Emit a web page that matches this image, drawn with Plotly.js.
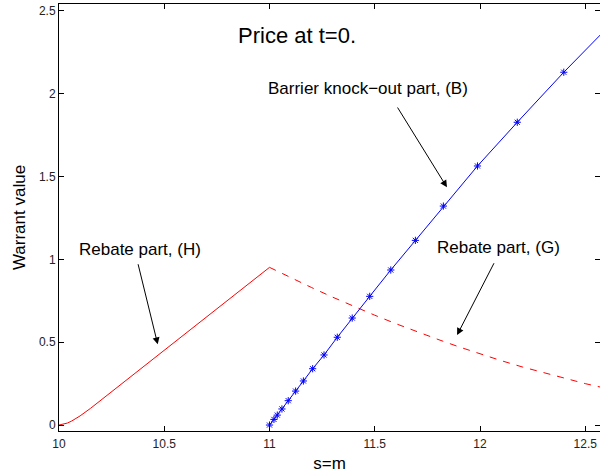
<!DOCTYPE html>
<html>
<head>
<meta charset="utf-8">
<script src="https://cdn.plot.ly/plotly-3.0.1.min.js"></script>
<style>
html,body{margin:0;padding:0;background:#fff;}
#chart{width:600px;height:476px;}
</style>
</head>
<body>
<div id="chart"></div>
<script>
// Rebate part (H): solid red, s from 10 to 11
const rebateHX = [10, 10.02, 10.04, 10.06, 10.08, 10.1, 10.15, 10.2, 10.3, 10.4, 10.5, 10.6, 10.7, 10.8, 10.9, 11];
const rebateHY = [0, 0.004, 0.012, 0.024, 0.038, 0.055, 0.101, 0.151, 0.250, 0.350, 0.450, 0.551, 0.651, 0.752, 0.852, 0.952];

// Rebate part (G): dashed red, s from 11 upward
const rebateGX = [11, 11.1, 11.2, 11.3, 11.4, 11.5, 11.6, 11.7, 11.8, 11.9, 12, 12.1, 12.2, 12.3, 12.4, 12.5, 12.6, 12.7];
const rebateGY = [0.952, 0.890, 0.830, 0.772, 0.717, 0.663, 0.612, 0.563, 0.517, 0.472, 0.430, 0.389, 0.351, 0.316, 0.282, 0.250, 0.221, 0.194];

// Barrier knock-out part (B): blue line with asterisk markers
const barrierX = [11.0, 11.021, 11.037, 11.059, 11.089, 11.124, 11.161, 11.205, 11.259, 11.322, 11.393, 11.476, 11.576, 11.693, 11.826, 11.988, 12.177, 12.398, 12.66];
const barrierY = [0.0, 0.034, 0.060, 0.097, 0.147, 0.205, 0.266, 0.340, 0.423, 0.530, 0.646, 0.777, 0.936, 1.115, 1.322, 1.564, 1.828, 2.130, 2.47];

const xTicks = [10, 10.5, 11, 11.5, 12, 12.5];
const xTickText = ['10', '10.5', '11', '11.5', '12', '12.5'];
const yTicks = [0, 0.5, 1, 1.5, 2, 2.5];
const yTickText = ['0', '0.5', '1', '1.5', '2', '2.5'];

const FONT = 'Liberation Sans, Arial, Helvetica, sans-serif';

const traces = [
  {x: rebateHX, y: rebateHY, mode: 'lines', line: {color: 'rgb(255,0,0)', width: 1}, hoverinfo: 'skip'},
  {x: rebateGX, y: rebateGY, mode: 'lines', line: {color: 'rgb(255,0,0)', width: 1, dash: '7px,7px'}, hoverinfo: 'skip'},
  {x: barrierX, y: barrierY, mode: 'lines+markers', line: {color: 'rgb(0,0,255)', width: 1},
   marker: {symbol: 'asterisk-open', size: 6, color: 'rgb(0,0,255)', line: {color: 'rgb(0,0,255)', width: 1}}, hoverinfo: 'skip'}
];

function label(text, x, y, size) {
  return {text: text, x: x, y: y, xref: 'x', yref: 'y', showarrow: false,
          font: {family: FONT, size: size, color: '#000'}, xanchor: 'center', yanchor: 'middle'};
}
function arrow(x, y, ax, ay) {
  return {text: '', x: x, y: y, ax: ax, ay: ay, xref: 'x', yref: 'y', axref: 'x', ayref: 'y',
          showarrow: true, arrowhead: 2, arrowsize: 1.4, arrowwidth: 1, arrowcolor: '#000',
          standoff: 0, startstandoff: 0};
}

const layout = {
  width: 600, height: 476,
  margin: {l: 59, r: 0, t: 4, b: 45},
  paper_bgcolor: '#fff', plot_bgcolor: '#fff',
  showlegend: false,
  font: {family: FONT, color: '#000'},
  xaxis: {
    range: [10, 12.57], tickvals: xTicks, ticktext: xTickText,
    ticks: 'inside', ticklen: 5, tickcolor: '#000', tickwidth: 1,
    showline: true, linecolor: '#000', linewidth: 1, mirror: 'ticks',
    showgrid: false, zeroline: false, ticklabelstandoff: 2,
    tickfont: {family: FONT, size: 12, color: '#222'},
    title: {text: 's=m', font: {family: FONT, size: 17, color: '#000'}, standoff: 6}
  },
  yaxis: {
    range: [-0.036, 2.542], tickvals: yTicks, ticktext: yTickText,
    ticks: 'inside', ticklen: 5, tickcolor: '#000', tickwidth: 1,
    showline: true, linecolor: '#000', linewidth: 1, mirror: 'ticks',
    showgrid: false, zeroline: false,
    tickfont: {family: FONT, size: 12, color: '#222'},
    title: {text: 'Warrant value', font: {family: FONT, size: 17, color: '#000'}, standoff: 8}
  },
  annotations: [
    label('Price at t=0.', 11.129, 2.351, 22),
    label('Barrier knock\u2212out part, (B)', 11.467, 2.033, 17),
    label('Rebate part, (H)', 10.383, 1.057, 17),
    label('Rebate part, (G)', 12.089, 1.069, 17),
    arrow(11.843, 1.435, 11.604, 1.926),
    arrow(10.469, 0.487, 10.374, 0.980),
    arrow(11.891, 0.543, 12.070, 0.986)
  ]
};

Plotly.newPlot('chart', traces, layout, {staticPlot: true, displayModeBar: false});
</script>
</body>
</html>
